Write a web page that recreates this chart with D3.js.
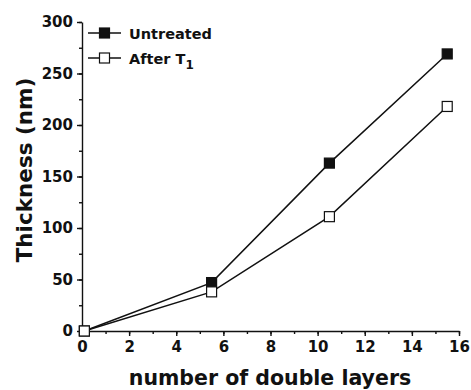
<!DOCTYPE html>
<meta charset="utf-8">
<script src="https://cdn.jsdelivr.net/npm/d3@7"></script>
<style>
body { margin: 0; background: #fff; }
text { font-family: "DejaVu Sans", sans-serif; font-weight: bold; fill: #111; }
.axis path, .axis line { stroke: #111; stroke-width: 1.4px; }
path.series { fill: none; stroke: #111; stroke-width: 1.5px; }
</style>
<body>
<div id="chart"></div>
<script>
// data
var layers = [0.1, 5.5, 10.5, 15.5];
var untreated = [0, 47, 163, 269];
var afterT1 = [0, 38, 111, 218];
var xTicks = [0, 2, 4, 6, 8, 10, 12, 14, 16];
var yTicks = [0, 50, 100, 150, 200, 250, 300];

var width = 471, height = 390;
var margin = {left: 82, right: 12, top: 22, bottom: 59};

var svg = d3.select("#chart").append("svg")
  .attr("width", width)
  .attr("height", height);

var x = d3.scaleLinear().domain([0, 16]).range([margin.left, 459]);
var y = d3.scaleLinear().domain([0, 300]).range([331, margin.top]);

// minor ticks first
svg.append("g")
  .attr("class", "axis")
  .attr("transform", "translate(0,331)")
  .call(d3.axisBottom(x).ticks(16).tickSize(3).tickFormat(""))
  .select(".domain").remove();
svg.append("g")
  .attr("class", "axis")
  .attr("transform", "translate(" + margin.left + ",0)")
  .call(d3.axisLeft(y).tickValues(d3.range(0, 301, 25)).tickSize(3).tickFormat(""))
  .select(".domain").remove();

var xAxis = svg.append("g")
  .attr("class", "axis")
  .attr("transform", "translate(0,331)")
  .call(d3.axisBottom(x).tickValues(xTicks).tickSize(5).tickSizeOuter(0).tickPadding(5));
xAxis.selectAll("text").style("font-size", "15px");

var yAxis = svg.append("g")
  .attr("class", "axis")
  .attr("transform", "translate(" + margin.left + ",0)")
  .call(d3.axisLeft(y).tickValues(yTicks).tickSize(5).tickSizeOuter(0).tickPadding(4));
yAxis.selectAll("text").style("font-size", "15px");

// axis titles
svg.append("text")
  .attr("x", 270)
  .attr("y", 385)
  .attr("text-anchor", "middle")
  .style("font-size", "20.5px")
  .text("number of double layers");

svg.append("text")
  .attr("transform", "translate(32,170) rotate(-90)")
  .attr("text-anchor", "middle")
  .style("font-size", "21.5px")
  .text("Thickness (nm)");

var line = d3.line()
  .x(function(d, i) { return x(layers[i]); })
  .y(function(d) { return y(d); });

var series = [
  {name: "Untreated", values: untreated, fill: "#111"},
  {name: "After T", values: afterT1, fill: "#fff"}
];

series.forEach(function(s) {
  svg.append("path")
    .attr("class", "series")
    .attr("d", line(s.values));
});

series.forEach(function(s) {
  svg.selectAll(null)
    .data(s.values)
    .enter().append("rect")
    .attr("x", function(d, i) { return x(layers[i]) - 5; })
    .attr("y", function(d) { return y(d) - 5; })
    .attr("width", 10)
    .attr("height", 10)
    .attr("fill", s.fill)
    .attr("stroke", "#111")
    .attr("stroke-width", 1.2);
});

// legend
var legend = svg.append("g");
series.forEach(function(s, i) {
  var ly = 33 + i * 25;
  legend.append("line")
    .attr("x1", 88).attr("x2", 121)
    .attr("y1", ly).attr("y2", ly)
    .attr("stroke", "#111").attr("stroke-width", 1.5);
  legend.append("rect")
    .attr("x", 99.5).attr("y", ly - 5)
    .attr("width", 10).attr("height", 10)
    .attr("fill", s.fill)
    .attr("stroke", "#111").attr("stroke-width", 1.2);
  var t = legend.append("text")
    .attr("x", 129)
    .attr("y", ly + 5.5)
    .style("font-size", "14.5px")
    .text(s.name);
  if (i == 1) {
    t.append("tspan")
      .attr("dy", 5)
      .style("font-size", "12px")
      .text("1");
  }
});
</script>
</body>
</html>
